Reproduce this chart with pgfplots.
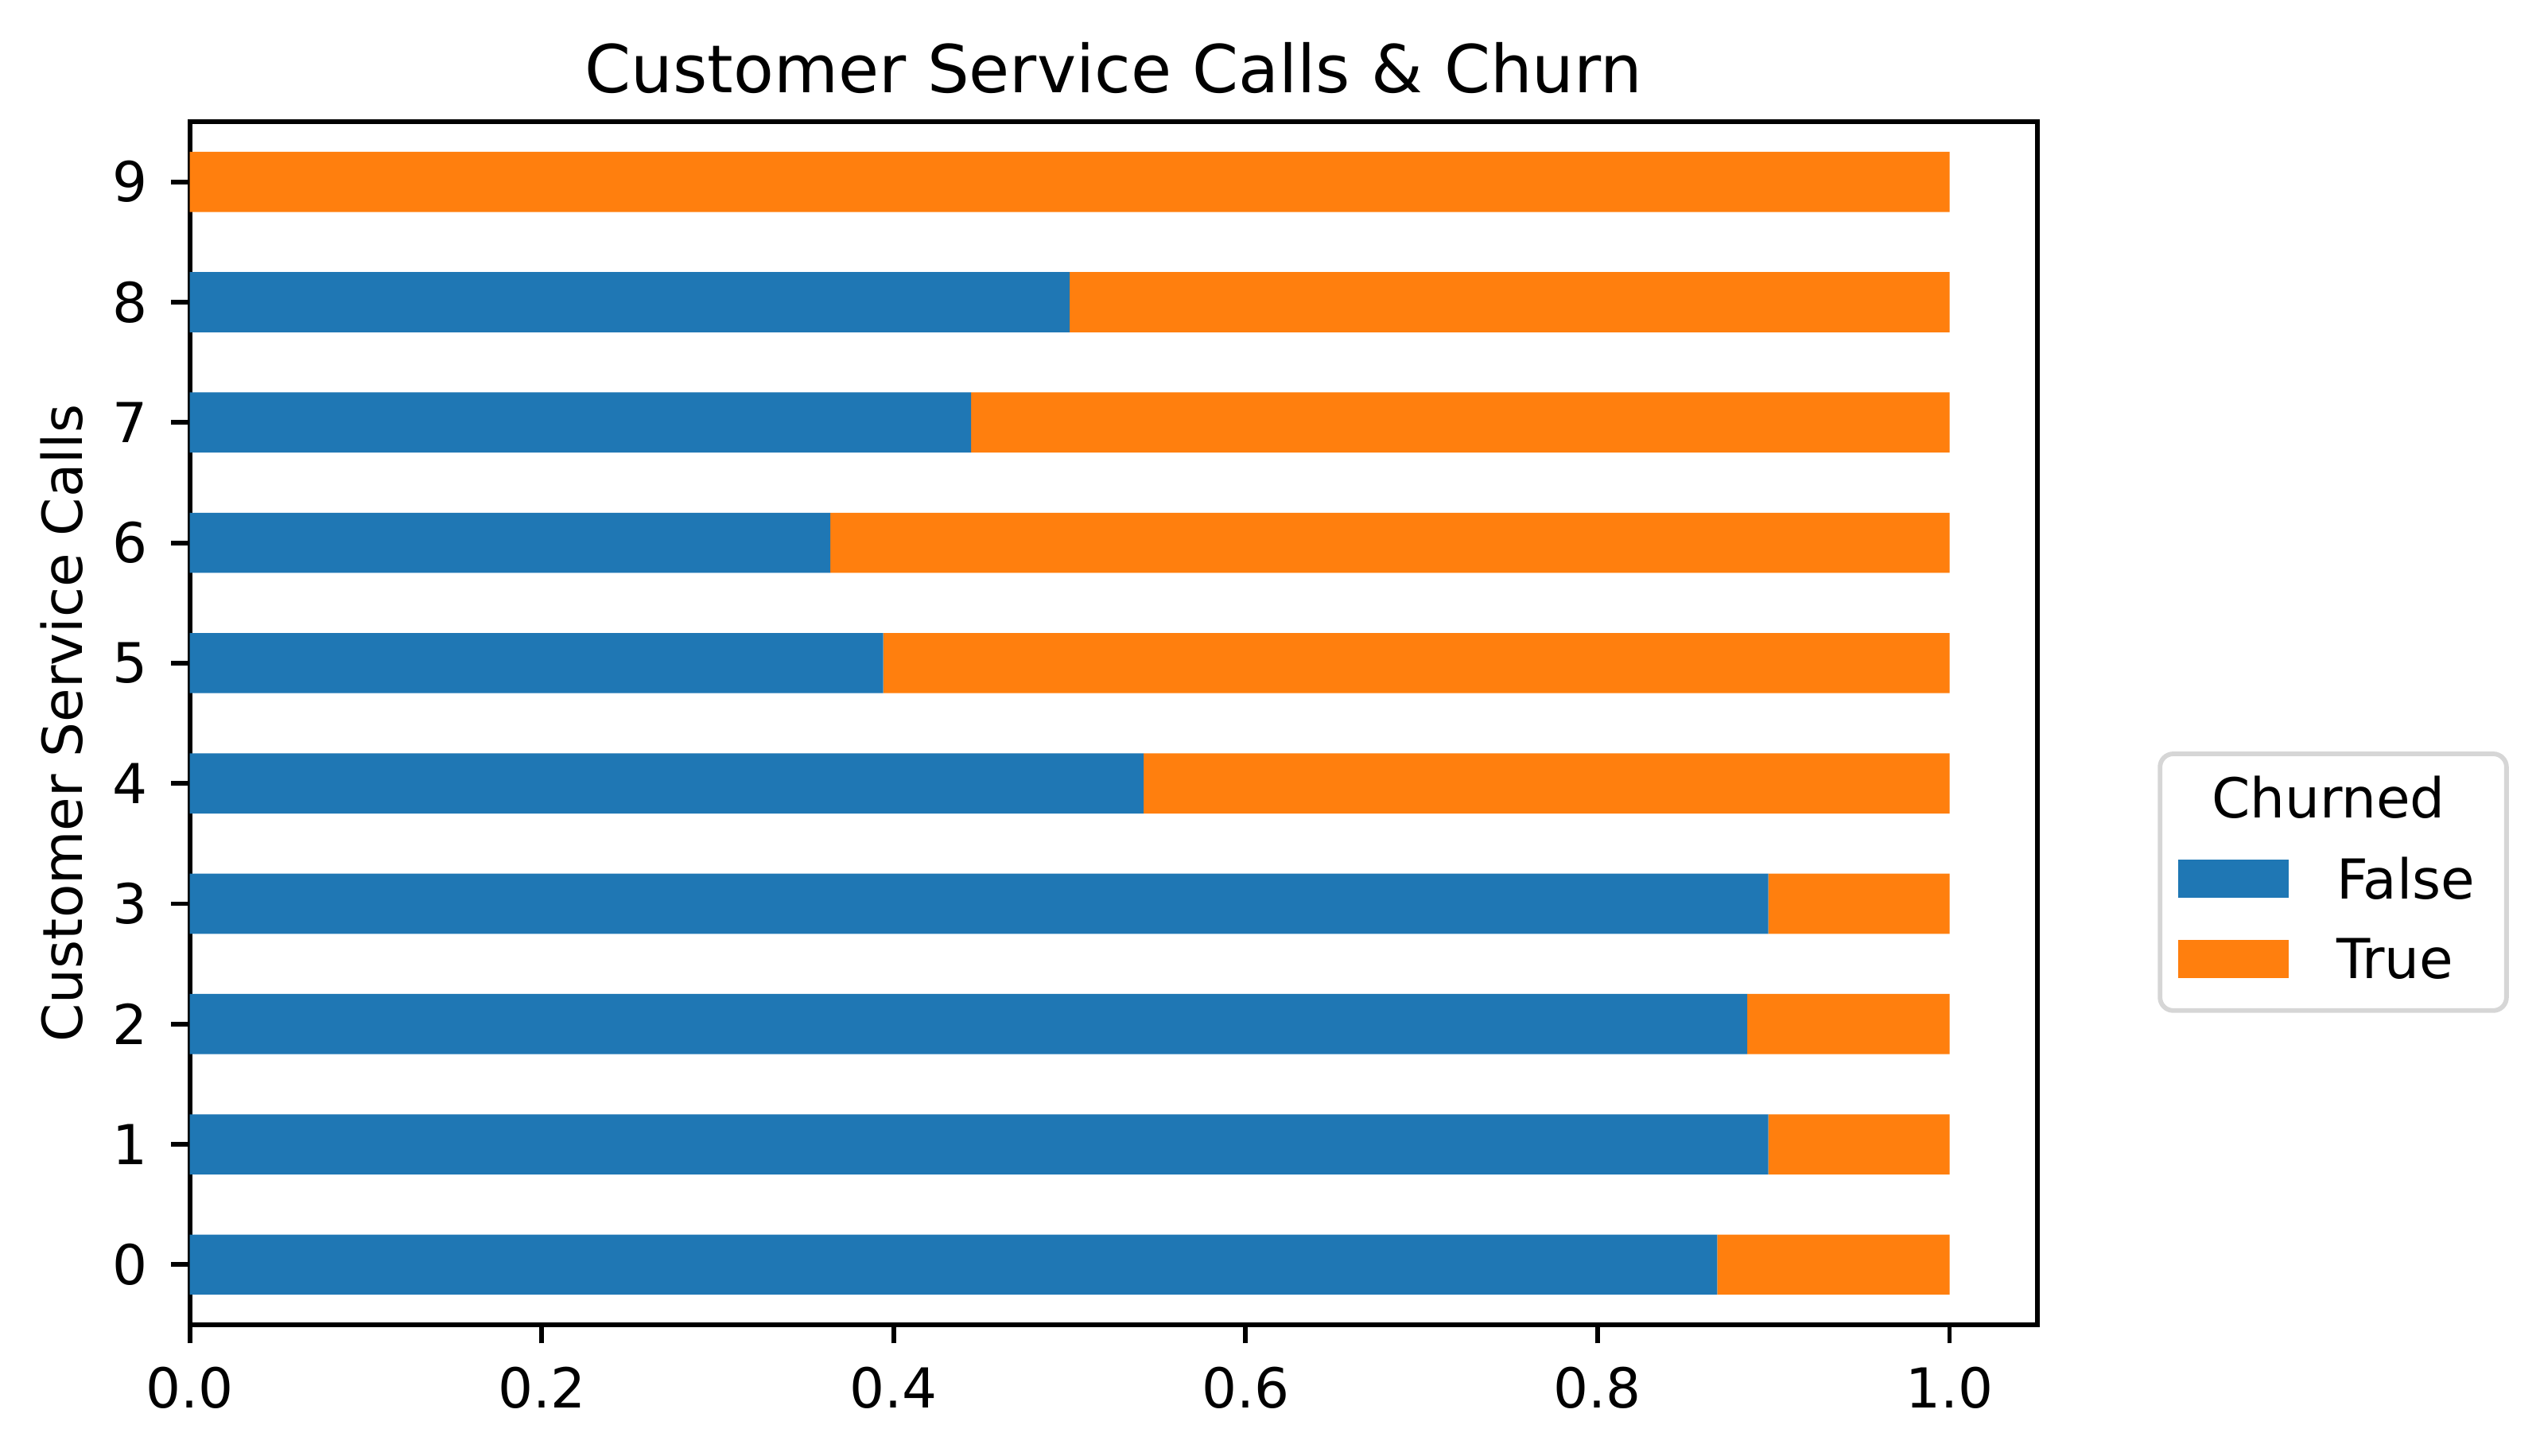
\documentclass[border=0pt]{standalone}
\usepackage{fontspec}
\setmainfont{DejaVu Sans}
\usepackage{pgfplots}
\pgfplotsset{compat=1.18}
\definecolor{tabblue}{HTML}{1F77B4}
\definecolor{taborange}{HTML}{FF7F0E}
\definecolor{leggray}{HTML}{D6D6D6}

% share of customers per number of service calls
\pgfplotstableread{
calls false true
0 0.868 0.132
1 0.897 0.103
2 0.885 0.115
3 0.897 0.103
4 0.542 0.458
5 0.394 0.606
6 0.364 0.636
7 0.444 0.556
8 0.500 0.500
9 0.000 1.000
}\churn

\begin{document}
\begin{tikzpicture}
\useasboundingbox (-28.7pt,-19.8pt) rectangle (355.5pt,200.4pt);
\begin{axis}[
  at={(0pt,0pt)}, anchor=south west,
  scale only axis, width=279.5pt, height=182pt,
  xbar stacked, bar width=0.5,
  xmin=0, xmax=1.05, ymin=-0.5, ymax=9.5,
  xtick={0,0.2,0.4,0.6,0.8,1.0},
  xticklabels={0.0,0.2,0.4,0.6,0.8,1.0},
  ytick={0,1,...,9},
  tick pos=left, tick align=outside, major tick length=2.8pt,
  every tick/.style={black, line width=0.7pt},
  axis line style={line width=0.7pt},
  ticklabel style={font=\fontsize{8.33}{10}\selectfont},
  /pgf/number format/assume math mode=true,
  title={Customer Service Calls \& Churn},
  every axis title/.style={at={(0.5,1.024)}, anchor=base, font=\fontsize{10}{12}\selectfont},
  ylabel={Customer Service Calls},
  every axis y label/.style={at={(-0.0583,0.5)}, rotate=90, anchor=base, font=\fontsize{8.33}{10}\selectfont},
  legend cell align=left,
  legend image code/.code={\fill[#1, sharp corners] (0pt,-2.2pt) rectangle (16.7pt,3.6pt);},
  legend style={at={(1.065,0.4765)}, anchor=north west, draw=leggray, line width=0.7pt,
    rounded corners=2pt, font=\fontsize{8.33}{10}\selectfont, column sep=5.2pt, row sep=0.5pt,
    inner xsep=2.8pt, inner ysep=1.3pt},
]
\addlegendimage{empty legend}
\addlegendentry{\hspace{-18.9pt}Churned}
\addplot[fill=tabblue, draw=none] table[x=false, y=calls] {\churn};
\addlegendentry{False}
\addplot[fill=taborange, draw=none] table[x=true, y=calls] {\churn};
\addlegendentry{True}
\end{axis}
\end{tikzpicture}
\end{document}
